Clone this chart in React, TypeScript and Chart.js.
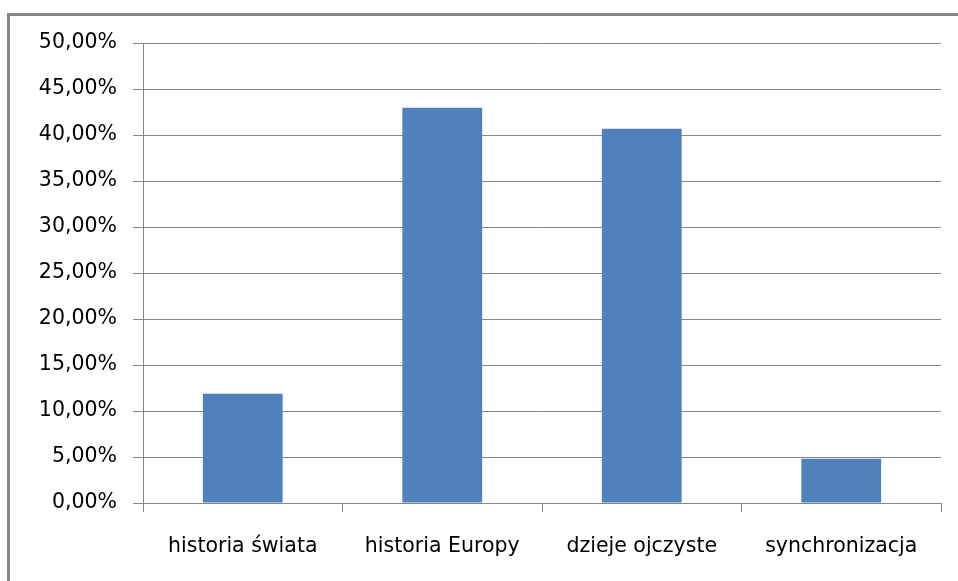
import React, { useEffect, useRef } from "react";
import { Chart, registerables } from "chart.js";

Chart.register(...registerables);

const categories = ["historia świata", "historia Europy", "dzieje ojczyste", "synchronizacja"];
const shares = [0.1188, 0.4297, 0.4069, 0.0482];
const yMin = 0;
const yMax = 0.5;
const yStep = 0.05;

const GRAY = "#868686";
const FONT = "'DejaVu Sans', sans-serif";

function fmt(v: number): string {
  return (v * 100).toFixed(2).replace(".", ",") + "%";
}

export default function App() {
  const ref = useRef<HTMLCanvasElement | null>(null);

  useEffect(() => {
    if (!ref.current) return;
    const chart = new Chart(ref.current, {
      type: "bar",
      data: {
        labels: categories,
        datasets: [
          {
            data: shares,
            backgroundColor: "#4F81BD",
            borderWidth: 0,
            barPercentage: 0.8,
            categoryPercentage: 0.5,
          },
        ],
      },
      options: {
        animation: false,
        responsive: false,
        maintainAspectRatio: false,
        layout: { padding: { left: 0, top: 43, right: 17, bottom: 0 } },
        plugins: { legend: { display: false }, tooltip: { enabled: false } },
        scales: {
          x: {
            grid: {
              display: true,
              drawOnChartArea: false,
              drawTicks: true,
              tickLength: 9,
              color: GRAY,
              offset: true,
            },
            border: { display: true, color: GRAY, width: 1 },
            ticks: {
              color: "#000",
              font: { family: FONT, size: 20.5 },
              padding: 22,
              maxRotation: 0,
              autoSkip: false,
            },
            afterFit: (s: any) => {
              s.height = 78;
            },
          },
          y: {
            min: yMin,
            max: yMax,
            grid: { color: GRAY, tickLength: 10, drawTicks: true },
            border: { display: true, color: GRAY, width: 1 },
            ticks: {
              stepSize: yStep,
              color: "#000",
              font: { family: FONT, size: 20.5 },
              padding: 16,
              callback: (v: any) => fmt(Number(v)),
            },
            afterFit: (s: any) => {
              s.width = 143;
            },
          },
        },
      },
    });
    return () => chart.destroy();
  }, []);

  return (
    <div style={{ position: "fixed", left: 0, top: 0, width: 958, height: 581, background: "#fff", overflow: "hidden" }}>
      <div
        style={{
          position: "absolute",
          left: 7,
          top: 13,
          width: 1000,
          height: 700,
          borderLeft: `3px solid ${GRAY}`,
          borderTop: `3px solid ${GRAY}`,
        }}
      />
      <canvas ref={ref} width={958} height={581} style={{ position: "absolute", left: 0, top: 0 }} />
    </div>
  );
}
